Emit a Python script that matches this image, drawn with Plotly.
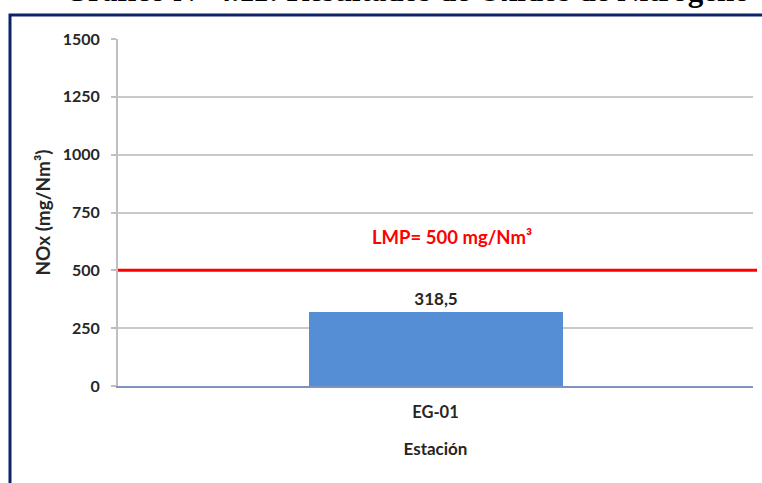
import plotly.graph_objects as go

# Data
stations = ["EG-01"]
nox_values = [318.5]
lmp_value = 500
y_ticks = [0, 250, 500, 750, 1000, 1250, 1500]

title_text = "Gráfico N° 4.11: Resultados de Óxidos de Nitrógeno"
y_title = "NOx (mg/Nm³)"
x_title = "Estación"
lmp_label = f"LMP= {lmp_value} mg/Nm³"

FONT = "Lato"
TEXT_COLOR = "#262626"
W, H = 762, 483
M = dict(l=118, r=9, t=39, b=97)
plot_w = W - M["l"] - M["r"]
plot_h = H - M["t"] - M["b"]


def px_x(px):
    return (px - M["l"]) / plot_w


def px_y(py):
    return 1 - (py - M["t"]) / plot_h


fig = go.Figure()
fig.add_trace(go.Bar(
    x=stations,
    y=nox_values,
    width=0.4,
    marker=dict(color="#558ed5", line=dict(width=0)),
    text=[f"{v:.1f}".replace(".", ",") for v in nox_values],
    textposition="outside",
    textfont=dict(family=FONT, size=17, color=TEXT_COLOR, weight="bold"),
    cliponaxis=False,
    showlegend=False,
))

shapes = [
    # limit line
    dict(type="line", xref="paper", yref="y", x0=0, x1=px_x(757),
         y0=lmp_value, y1=lmp_value, line=dict(color="#ff0000", width=3)),
    # frame
    dict(type="rect", xref="paper", yref="paper",
         x0=px_x(10), x1=px_x(775), y0=px_y(15), y1=px_y(500),
         line=dict(color="#0c2466", width=3), fillcolor="rgba(0,0,0,0)"),
]

annotations = [
    dict(text=lmp_label, xref="paper", yref="y", x=px_x(452), y=lmp_value,
         yshift=33, showarrow=False, xanchor="center", yanchor="middle",
         font=dict(family=FONT, size=18.5, color="#ff0000", weight="bold")),
    dict(text=title_text, xref="paper", yref="paper", x=px_x(407), y=px_y(-9.7),
         showarrow=False, xanchor="center", yanchor="middle",
         font=dict(family="Liberation Serif", size=31, color="#000000", weight="bold")),
]

fig.update_layout(
    width=W, height=H,
    margin=M,
    paper_bgcolor="white",
    plot_bgcolor="white",
    shapes=shapes,
    annotations=annotations,
    font=dict(family=FONT, color=TEXT_COLOR),
    bargap=0,
)

fig.update_xaxes(
    range=[-0.5, 0.5],
    showline=True, linecolor="#7f93bf", linewidth=2,
    ticks="", showgrid=False,
    ticklabelstandoff=10,
    tickfont=dict(family=FONT, size=16.5, color=TEXT_COLOR, weight="bold"),
    title=dict(text=x_title, standoff=22,
               font=dict(family=FONT, size=17, color=TEXT_COLOR, weight="bold")),
)

fig.update_yaxes(
    range=[0, 1500],
    tickvals=y_ticks,
    showline=True, linecolor="#bfbfbf", linewidth=2,
    ticks="outside", ticklen=5, tickcolor="#bfbfbf", tickwidth=2,
    ticklabelstandoff=8,
    showgrid=True, gridcolor="#c9c9c9", gridwidth=2,
    zeroline=False,
    tickfont=dict(family=FONT, size=16, color=TEXT_COLOR, weight="bold"),
    title=dict(text=y_title, standoff=7,
               font=dict(family=FONT, size=19, color=TEXT_COLOR, weight="bold")),
)

fig.write_html("out.html")
